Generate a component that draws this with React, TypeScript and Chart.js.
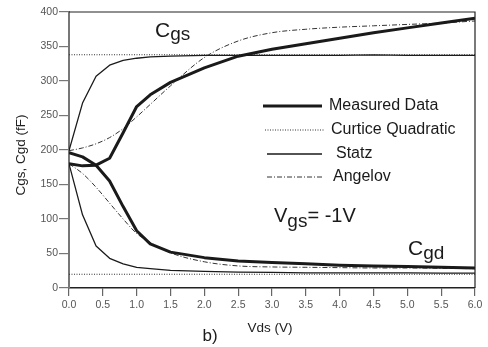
import { useEffect, useRef } from "react";
import { Chart, registerables } from "chart.js";

Chart.register(...registerables);

// ---- data ----
const vdsMeasured = [0, 0.2, 0.4, 0.6, 0.8, 1.0, 1.2, 1.5, 2.0, 2.5, 3.0, 3.5, 4.0, 4.5, 5.0, 5.5, 6.0];
const measuredCgs = [180, 177, 178, 188, 225, 263, 280, 298, 319, 336, 346, 354, 362, 370, 377, 384, 391];
const measuredCgd = [196, 190, 178, 155, 118, 83, 64, 52, 44, 39, 37, 35, 33, 32, 31, 30, 29];

const vdsModel = [0, 0.2, 0.4, 0.6, 0.8, 1.0, 1.2, 1.5, 2.0, 2.5, 3.0, 3.5, 4.0, 4.5, 5.0, 5.5, 6.0];
const statzCgs = [199, 268, 307, 323, 330, 333, 335, 336, 337, 337, 337, 337, 337, 338, 337, 337, 337];
const statzCgd = [180, 106, 61, 43, 35, 30, 28, 25.5, 24, 23, 22.5, 22, 22, 22, 22, 21.5, 21.5];
const angelovCgs = [199, 203, 209, 218, 231, 248, 266, 293, 334, 358, 370, 375, 378, 380, 382, 384, 387];
const angelovCgd = [180, 166, 146, 123, 100, 79, 66, 51, 38, 32, 30.5, 30, 29.5, 29, 29, 28.5, 28];

const vdsCurtice = [0, 6];
const curticeCgs = [338, 338];
const curticeCgd = [20, 20];

const legendLabels = ["Measured Data", "Curtice Quadratic", "Statz", "Angelov"];
const xTitle = "Vds (V)";
const yTitle = "Cgs, Cgd (fF)";

const FONT = '"Liberation Sans", Arial, Helvetica, sans-serif';

const toPts = (xs: number[], ys: number[]) => xs.map((x, i) => ({ x, y: ys[i] }));

const styles = [
  { borderColor: "#1a1a1a", borderWidth: 3, borderDash: [] as number[] },
  { borderColor: "#333", borderWidth: 1.1, borderDash: [1, 1.5] },
  { borderColor: "#1a1a1a", borderWidth: 1.3, borderDash: [] as number[] },
  { borderColor: "#333", borderWidth: 1, borderDash: [5, 2, 1, 2] },
];

export default function App() {
  const ref = useRef<HTMLCanvasElement | null>(null);

  useEffect(() => {
    if (!ref.current) return;
    const mk = (label: string, xs: number[], ys: number[], s: number, smooth: boolean) => ({
      label,
      data: toPts(xs, ys),
      borderColor: styles[s].borderColor,
      borderWidth: styles[s].borderWidth,
      borderDash: styles[s].borderDash,
      pointRadius: 0,
      fill: false,
      tension: 0,
      cubicInterpolationMode: smooth ? ("monotone" as const) : ("default" as const),
      borderCapStyle: "butt" as const,
      borderJoinStyle: "round" as const,
    });

    const overlay = {
      id: "overlay",
      afterDraw(chart: any) {
        const ctx = chart.ctx as CanvasRenderingContext2D;
        const { left, top, right, bottom } = chart.chartArea;
        ctx.save();
        // frame top/right
        ctx.strokeStyle = "#222";
        ctx.lineWidth = 1.2;
        ctx.setLineDash([]);
        ctx.beginPath();
        ctx.moveTo(left, top);
        ctx.lineTo(right, top);
        ctx.lineTo(right, bottom);
        ctx.stroke();

        // legend
        const entries = [
          { y: 106, x0: 263, x1: 322, tx: 329 },
          { y: 130, x0: 265, x1: 325, tx: 331 },
          { y: 154, x0: 267, x1: 322, tx: 336 },
          { y: 177, x0: 267, x1: 324, tx: 333 },
        ];
        ctx.font = `16px ${FONT}`;
        ctx.textBaseline = "middle";
        ctx.textAlign = "left";
        entries.forEach((e, i) => {
          const st = styles[i];
          ctx.strokeStyle = st.borderColor;
          ctx.lineWidth = st.borderWidth;
          ctx.setLineDash(st.borderDash);
          ctx.beginPath();
          ctx.moveTo(e.x0, e.y);
          ctx.lineTo(e.x1, e.y);
          ctx.stroke();
          ctx.setLineDash([]);
          ctx.fillStyle = "#1a1a1a";
          ctx.fillText(legendLabels[i], e.tx, e.y);
        });

        // subscript annotations
        const sub = (x: number, base: number, main: string, s: string, bSub: number, tail = "", size = 21, subSize = 19) => {
          ctx.textBaseline = "alphabetic";
          ctx.textAlign = "left";
          ctx.fillStyle = "#1a1a1a";
          ctx.font = `${size}px ${FONT}`;
          ctx.fillText(main, x, base);
          let cx = x + ctx.measureText(main).width;
          ctx.font = `${subSize}px ${FONT}`;
          ctx.fillText(s, cx, bSub);
          cx += ctx.measureText(s).width;
          if (tail) {
            ctx.font = `${size}px ${FONT}`;
            ctx.fillText(tail, cx, base);
          }
        };
        sub(155, 37, "C", "gs", 40);
        sub(274, 222, "V", "gs", 227, "= -1V", 20, 19);
        sub(408, 255, "C", "gd", 259);

        // axis titles
        ctx.fillStyle = "#222";
        ctx.font = `13.5px ${FONT}`;
        ctx.textAlign = "center";
        ctx.textBaseline = "middle";
        ctx.fillText(xTitle, 270, 328);
        ctx.save();
        ctx.translate(21, 155);
        ctx.rotate(-Math.PI / 2);
        ctx.fillText(yTitle, 0, 0);
        ctx.restore();

        ctx.font = `17px ${FONT}`;
        ctx.fillStyle = "#1a1a1a";
        ctx.fillText("b)", 210, 336);
        ctx.restore();
      },
    };

    const chart = new Chart(ref.current, {
      type: "line",
      data: {
        datasets: [
          mk(legendLabels[0] + " Cgs", vdsMeasured, measuredCgs, 0, false),
          mk(legendLabels[0] + " Cgd", vdsMeasured, measuredCgd, 0, false),
          mk(legendLabels[1] + " Cgs", vdsCurtice, curticeCgs, 1, false),
          mk(legendLabels[1] + " Cgd", vdsCurtice, curticeCgd, 1, false),
          mk(legendLabels[2] + " Cgs", vdsModel, statzCgs, 2, false),
          mk(legendLabels[2] + " Cgd", vdsModel, statzCgd, 2, false),
          mk(legendLabels[3] + " Cgs", vdsModel, angelovCgs, 3, true),
          mk(legendLabels[3] + " Cgd", vdsModel, angelovCgd, 3, true),
        ],
      },
      options: {
        responsive: false,
        animation: false,
        layout: { padding: { top: 12, right: 13, left: 0, bottom: 0 } },
        plugins: { legend: { display: false }, tooltip: { enabled: false } },
        scales: {
          x: {
            type: "linear",
            min: 0,
            max: 6,
            afterFit: (s: any) => {
              s.height = 59;
            },
            ticks: {
              stepSize: 0.5,
              color: "#555",
              font: { family: FONT, size: 10.5 },
              padding: 3,
              maxRotation: 0,
              autoSkip: false,
              callback: (v: any) => Number(v).toFixed(1),
            },
            grid: { drawOnChartArea: false, drawTicks: true, tickLength: 8, color: "#666", lineWidth: 1.2 },
            border: { display: true, color: "#222", width: 1.5 },
          },
          y: {
            type: "linear",
            min: 0,
            max: 400,
            afterFit: (s: any) => {
              s.width = 69;
            },
            ticks: {
              stepSize: 50,
              color: "#555",
              font: { family: FONT, size: 10.5 },
              padding: 1,
            },
            grid: { drawOnChartArea: false, drawTicks: true, tickLength: 10, color: "#777", lineWidth: 1.2 },
            border: { display: true, color: "#777", width: 2 },
          },
        },
      },
      plugins: [overlay],
    });
    return () => chart.destroy();
  }, []);

  return (
    <div style={{ position: "absolute", left: 0, top: 0, width: 488, height: 347, background: "#fff" }}>
      <canvas ref={ref} width={488} height={347} style={{ display: "block", width: 488, height: 347 }} />
    </div>
  );
}
